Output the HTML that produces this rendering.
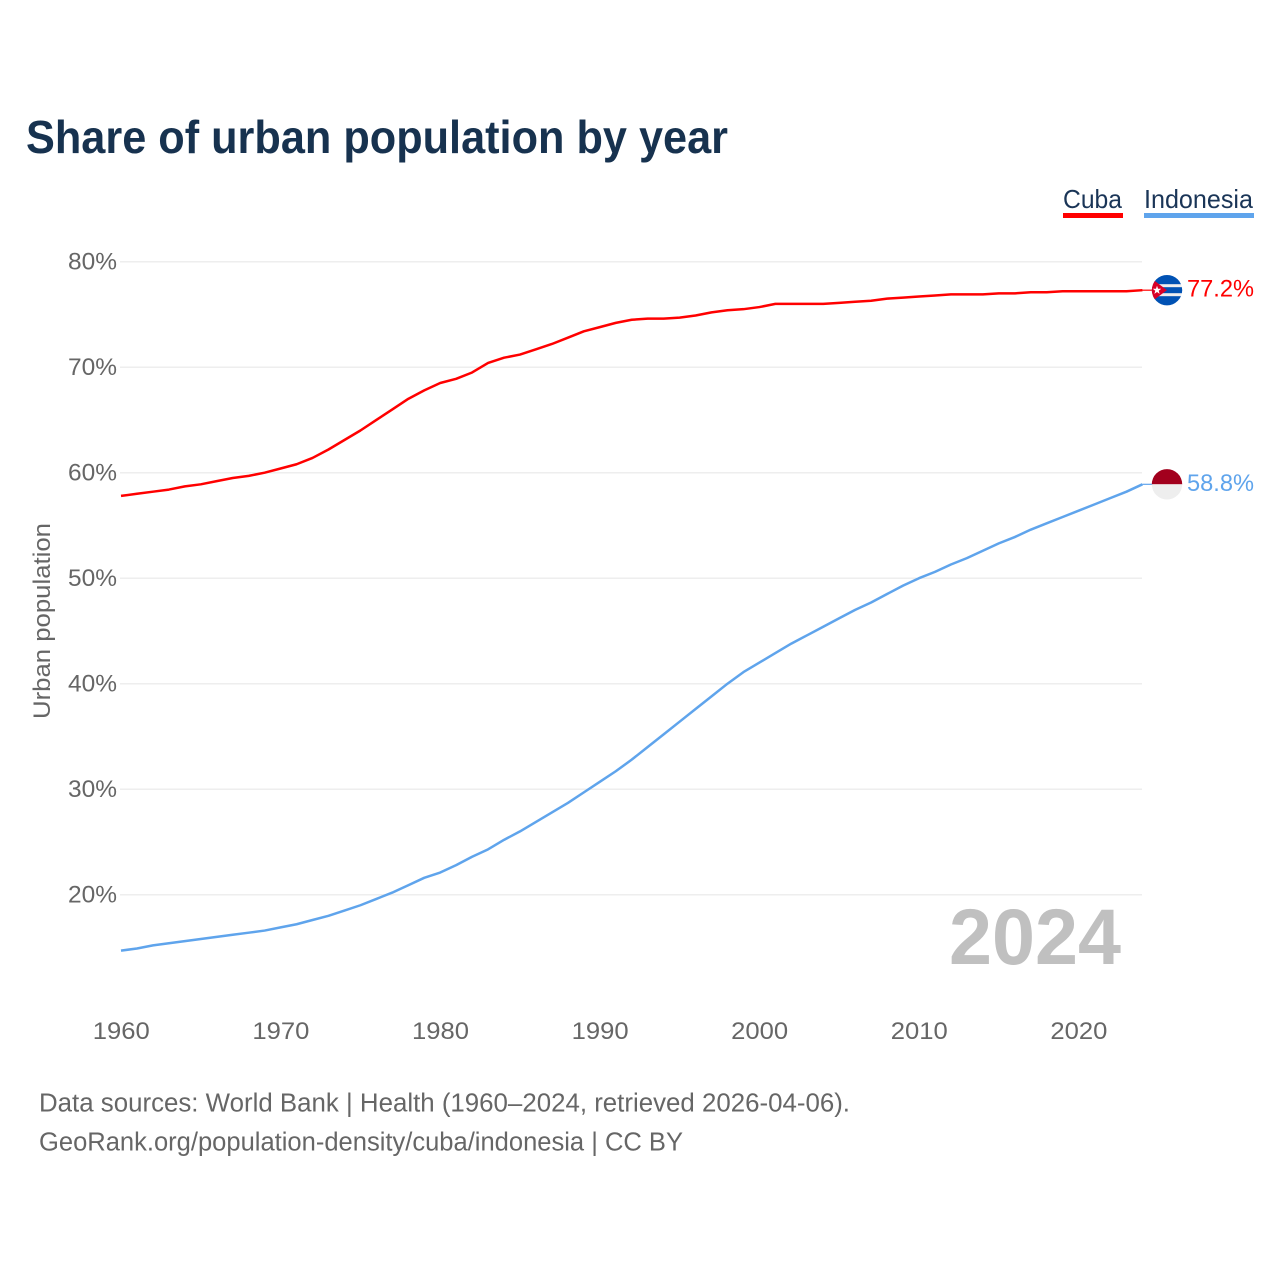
<!DOCTYPE html>
<html lang="en">
<head>
<meta charset="utf-8">
<title>Share of urban population by year</title>
<style>
html,body{margin:0;padding:0;background:#fff;width:1280px;height:1280px;overflow:hidden}
svg{display:block}
text{font-family:"Liberation Sans",sans-serif}
</style>
</head>
<body>
<svg id="chart" width="1280" height="1280" viewBox="0 0 1280 1280" xmlns="http://www.w3.org/2000/svg">
  <rect width="1280" height="1280" fill="#ffffff"/>
  <text x="26" y="153" font-size="46" font-weight="700" fill="#17324f" textLength="702" lengthAdjust="spacingAndGlyphs">Share of urban population by year</text>
  <text x="1063" y="208" font-size="26" fill="#1a3557" textLength="59" lengthAdjust="spacingAndGlyphs">Cuba</text>
  <rect x="1063" y="213" width="60" height="5" fill="#ff0000"/>
  <text x="1144" y="208" font-size="26" fill="#1a3557" textLength="109" lengthAdjust="spacingAndGlyphs">Indonesia</text>
  <rect x="1144" y="213" width="110" height="5" fill="#5fa4ec"/>
  <text transform="translate(50,621) rotate(-90)" text-anchor="middle" font-size="24" fill="#666666" textLength="196" lengthAdjust="spacingAndGlyphs">Urban population</text>
  <g id="grid"></g>
  <g id="yticks"></g>
  <g id="xticks"></g>
  <text x="1121" y="964" text-anchor="end" font-size="79" font-weight="700" fill="#c0c0c0" textLength="172" lengthAdjust="spacingAndGlyphs">2024</text>
  <g id="series"></g>
  <defs>
    <clipPath id="clip-cuba"><circle id="clip-cuba-circle" r="15.2"/></clipPath>
    <clipPath id="clip-indo"><circle id="clip-indo-circle" r="15.2"/></clipPath>
  </defs>
  <g id="flags"></g>
  <text x="39" y="1111.5" font-size="25.5" fill="#666666" textLength="811" lengthAdjust="spacingAndGlyphs">Data sources: World Bank | Health (1960–2024, retrieved 2026-04-06).</text>
  <text x="39" y="1150.5" font-size="25.5" fill="#666666" textLength="644" lengthAdjust="spacingAndGlyphs">GeoRank.org/population-density/cuba/indonesia | CC BY</text>
</svg>
<script>
const startYear = 1960;
const cubaValues = [57.8,58.0,58.2,58.4,58.7,58.9,59.2,59.5,59.7,60.0,60.4,60.8,61.4,62.2,63.1,64.0,65.0,66.0,67.0,67.8,68.5,68.9,69.5,70.4,70.9,71.2,71.7,72.2,72.8,73.4,73.8,74.2,74.5,74.6,74.6,74.7,74.9,75.2,75.4,75.5,75.7,76.0,76.0,76.0,76.0,76.1,76.2,76.3,76.5,76.6,76.7,76.8,76.9,76.9,76.9,77.0,77.0,77.1,77.1,77.2,77.2,77.2,77.2,77.2,77.3];
const indonesiaValues = [14.7,14.9,15.2,15.4,15.6,15.8,16.0,16.2,16.4,16.6,16.9,17.2,17.6,18.0,18.5,19.0,19.6,20.2,20.9,21.6,22.1,22.8,23.6,24.3,25.2,26.0,26.9,27.8,28.7,29.7,30.7,31.7,32.8,34.0,35.2,36.4,37.6,38.8,40.0,41.1,42.0,42.9,43.8,44.6,45.4,46.2,47.0,47.7,48.5,49.3,50.0,50.6,51.3,51.9,52.6,53.3,53.9,54.6,55.2,55.8,56.4,57.0,57.6,58.2,58.9];
const yTickValues = [20,30,40,50,60,70,80];
const xTickValues = [1960,1970,1980,1990,2000,2010,2020];
const cubaLabel = "77.2%";
const indonesiaLabel = "58.8%";

const NS = "http://www.w3.org/2000/svg";
function xScale(year){ return 121 + (year - 1960) * 15.96; }
function yScale(v){ return 261.7 + (80 - v) * 10.55; }
function make(tag, attrs, parent){
  const el = document.createElementNS(NS, tag);
  for (const k in attrs) el.setAttribute(k, attrs[k]);
  parent.appendChild(el);
  return el;
}
const grid = document.getElementById("grid");
const yticks = document.getElementById("yticks");
const xticks = document.getElementById("xticks");
const series = document.getElementById("series");
const flags = document.getElementById("flags");

yTickValues.forEach(function(v){
  const line = make("line", {x1:120, x2:1142, y1:yScale(v), y2:yScale(v), stroke:"#eeeeee", "stroke-width":1.5}, grid);
  
  
  const t = make("text", {x:117, y:yScale(v)+7.8, "text-anchor":"end", "font-size":24.5, fill:"#666666", textLength:49, lengthAdjust:"spacingAndGlyphs"}, yticks);
  
  
  t.textContent = v + "%";
});
xTickValues.forEach(function(yr){
  const t = make("text", {x:xScale(yr)+0.3, y:1039, "text-anchor":"middle", "font-size":24.5, fill:"#666666", textLength:57, lengthAdjust:"spacingAndGlyphs"}, xticks);
  
  
  t.textContent = yr;
});
function pathFor(values){
  return values.map(function(v,i){
    return (i ? "L" : "M") + xScale(startYear + i).toFixed(2) + " " + yScale(v).toFixed(2);
  }).join(" ");
}
function drawSeries(values, color, key, labelText){
  const lastX = xScale(startYear + values.length - 1);
  const lastY = yScale(values[values.length - 1]);
  const connector = make("line", {x1:lastX, x2:1153, y1:lastY, y2:lastY, stroke:color, "stroke-width":1.2}, series);
  
  
  const line = make("path", {d:pathFor(values), fill:"none", stroke:color, "stroke-width":2.5, "stroke-linejoin":"round"}, series);
  
  
  const label = make("text", {x:1187, y:lastY+6.5, "font-size":24.5, fill:color, textLength:67, lengthAdjust:"spacingAndGlyphs"}, series);
  
  
  label.textContent = labelText;
  return lastY;
}
const cubaY = drawSeries(cubaValues, "#ff0000", "cuba", cubaLabel);
const indoY = drawSeries(indonesiaValues, "#5fa4ec", "indonesia", indonesiaLabel);

/* Cuba flag */
const cx = 1167;
document.getElementById("clip-cuba-circle").setAttribute("cx", cx);
document.getElementById("clip-cuba-circle").setAttribute("cy", cubaY);
const cubaFlag = make("g", {"clip-path":"url(#clip-cuba)"}, flags);


make("rect", {x:cx-16, y:cubaY-16, width:32, height:32, fill:"#eeeeee"}, cubaFlag);
make("rect", {x:cx-16, y:cubaY-16, width:32, height:10, fill:"#0052b4"}, cubaFlag);
make("rect", {x:cx-16, y:cubaY-3, width:32, height:6, fill:"#0052b4"}, cubaFlag);
make("rect", {x:cx-16, y:cubaY+6, width:32, height:10, fill:"#0052b4"}, cubaFlag);
make("polygon", {points:(cx-16)+","+(cubaY-12)+" "+cx+","+cubaY+" "+(cx-16)+","+(cubaY+12), fill:"#d80027"}, cubaFlag);
const starPts = [];
for (let i = 0; i < 10; i++) {
  const r = i % 2 ? 1.8 : 4.5;
  const a = -Math.PI/2 + i * Math.PI/5;
  starPts.push((cx-10 + r*Math.cos(a)).toFixed(2) + "," + (cubaY + r*Math.sin(a)).toFixed(2));
}
make("polygon", {points:starPts.join(" "), fill:"#ffffff"}, cubaFlag);

/* Indonesia flag */
document.getElementById("clip-indo-circle").setAttribute("cx", cx);
document.getElementById("clip-indo-circle").setAttribute("cy", indoY);
const indoFlag = make("g", {"clip-path":"url(#clip-indo)"}, flags);


make("rect", {x:cx-16, y:indoY-16, width:32, height:16, fill:"#a2001d"}, indoFlag);
make("rect", {x:cx-16, y:indoY, width:32, height:16, fill:"#eeeeee"}, indoFlag);
</script>
</body>
</html>
